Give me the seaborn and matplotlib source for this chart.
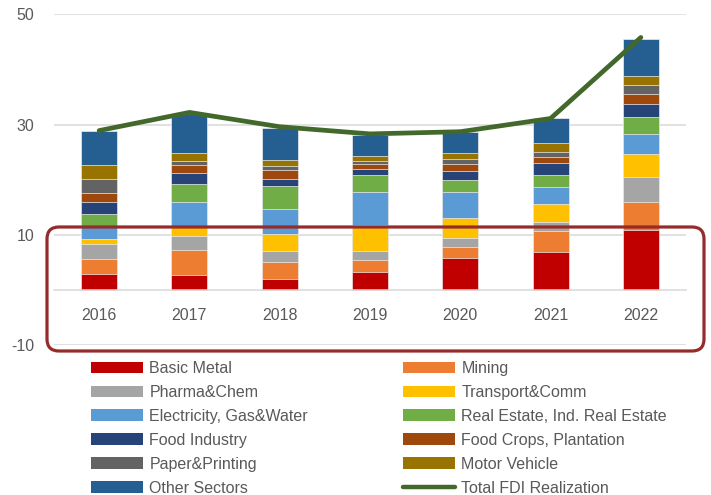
import numpy as np
import pandas as pd
import matplotlib
matplotlib.use("Agg")
import matplotlib.pyplot as plt
import seaborn as sns
from matplotlib.patches import Patch, FancyBboxPatch
from matplotlib.lines import Line2D

# data (USD bn)
years = ["2016", "2017", "2018", "2019", "2020", "2021", "2022"]
basic_metal = [2.8, 2.7, 1.9, 3.3, 5.7, 6.8, 10.9]
mining = [2.8, 4.5, 3.2, 2.2, 2.0, 3.9, 5.0]
pharma_chem = [2.8, 2.6, 1.9, 1.5, 1.8, 1.6, 4.5]
transport_comm = [0.9, 1.6, 3.2, 4.8, 3.6, 3.3, 4.2]
electricity = [2.3, 4.6, 4.4, 6.0, 4.7, 3.0, 3.7]
real_estate = [2.2, 3.2, 4.2, 3.0, 2.2, 2.2, 3.1]
food_industry = [2.1, 2.0, 1.3, 1.1, 1.6, 2.3, 2.4]
food_crops = [1.6, 1.5, 1.7, 1.0, 1.2, 1.0, 1.8]
paper_printing = [2.7, 0.7, 0.7, 0.5, 1.0, 1.0, 1.6]
motor_vehicle = [2.4, 1.4, 1.0, 0.9, 1.0, 1.5, 1.6]
other_sectors = [6.2, 7.1, 5.8, 3.8, 3.9, 4.5, 6.7]
total_fdi = [28.9, 32.2, 29.6, 28.3, 28.7, 31.1, 45.8]

sectors = ["Basic Metal", "Mining", "Pharma&Chem", "Transport&Comm",
           "Electricity, Gas&Water", "Real Estate, Ind. Real Estate",
           "Food Industry", "Food Crops, Plantation", "Paper&Printing",
           "Motor Vehicle", "Other Sectors"]
series = [basic_metal, mining, pharma_chem, transport_comm, electricity,
          real_estate, food_industry, food_crops, paper_printing,
          motor_vehicle, other_sectors]
colors = ["#C00000", "#ED7D31", "#A5A5A5", "#FFC000", "#5B9BD5", "#70AD47",
          "#264478", "#9E480E", "#636363", "#997300", "#255E91"]
line_color = "#43682B"
text_color = "#595959"

sns.set_theme(style="white")
plt.rcParams["font.family"] = ["Liberation Sans", "DejaVu Sans"]
plt.rcParams["axes.unicode_minus"] = False

fig = plt.figure(figsize=(7.11, 4.95), dpi=100)
ax = fig.add_axes([54 / 711, 1 - 345 / 495, 632 / 711, (345 - 14.3) / 495])

# stacked bars: draw cumulative totals from the top layer down
cum = np.cumsum(np.array(series), axis=0)
for i in reversed(range(len(series))):
    df = pd.DataFrame({"year": years, "value": cum[i]})
    sns.barplot(data=df, x="year", y="value", color=colors[i], saturation=1,
                width=0.4, errorbar=None, edgecolor="#eeeeee", linewidth=0.5,
                ax=ax, zorder=2)

sns.lineplot(x=np.arange(len(years)), y=total_fdi, color=line_color,
             linewidth=3.4, ax=ax, zorder=3, solid_capstyle="round")

ax.set_ylim(-10, 50)
ax.set_xlim(-0.5, len(years) - 0.5)
ax.set_yticks([-10, 10, 30, 50])
ax.yaxis.grid(True, color="#D9D9D9", linewidth=1.1, zorder=0)
ax.set_axisbelow(True)
for s in ["left", "right", "top"]:
    ax.spines[s].set_visible(False)
ax.spines["bottom"].set_position(("data", 0))
ax.spines["bottom"].set_color("#D9D9D9")
ax.spines["bottom"].set_linewidth(1.1)
ax.tick_params(axis="x", length=0, pad=13, labelsize=11.5, labelcolor=text_color)
ax.tick_params(axis="y", length=0, pad=14, labelsize=11.5, labelcolor=text_color)
ax.set_xlabel("")
ax.set_ylabel("")

# legend, filled row by row like the original
patches = {name: Patch(facecolor=c, edgecolor="none") for name, c in zip(sectors, colors)}
total_handle = Line2D([], [], color=line_color, linewidth=3.2, solid_capstyle="round")
col1 = ["Basic Metal", "Pharma&Chem", "Electricity, Gas&Water", "Food Industry",
        "Paper&Printing", "Other Sectors"]
col2 = ["Mining", "Transport&Comm", "Real Estate, Ind. Real Estate",
        "Food Crops, Plantation", "Motor Vehicle"]
handles = [patches[n] for n in col1] + [patches[n] for n in col2] + [total_handle]
labels = col1 + col2 + ["Total FDI Realization"]
fig.legend(handles, labels, loc="upper left", bbox_to_anchor=(91 / 711, 1 - 361 / 495),
           ncol=2, frameon=False, fontsize=11.5, labelcolor=text_color,
           handlelength=3.25, handleheight=0.75, handletextpad=0.4,
           columnspacing=5.95, labelspacing=0.56, borderpad=0, borderaxespad=0)

# highlight box around the lower part of the chart
box = FancyBboxPatch((0.47, 4.95 - 3.51), 6.57, 1.24,
                     boxstyle="round,pad=0,rounding_size=0.12",
                     transform=fig.dpi_scale_trans, fill=False,
                     edgecolor="#962B2B", linewidth=2.3, zorder=5)
fig.add_artist(box)

fig.savefig("out.png", dpi=100)
